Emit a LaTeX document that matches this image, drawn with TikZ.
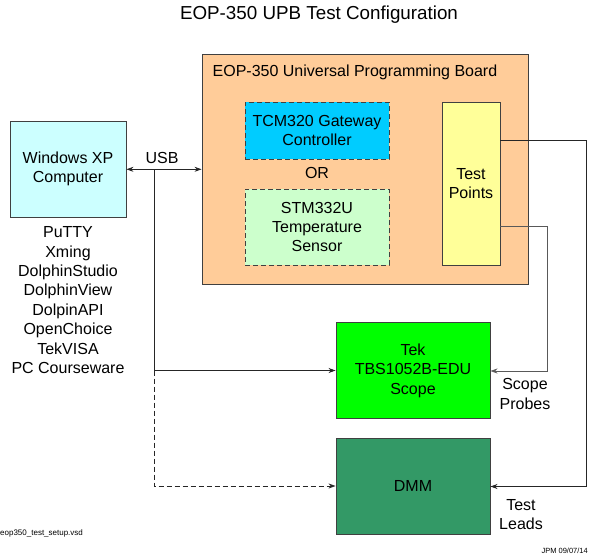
\documentclass[tikz,border=0pt]{standalone}
\usepackage{fontspec}
\setmainfont{Liberation Sans}
\usetikzlibrary{arrows.meta}
\definecolor{pcyan}{HTML}{CCFFFF}
\definecolor{peach}{HTML}{FFCC99}
\definecolor{skyb}{HTML}{00CCFF}
\definecolor{pgreen}{HTML}{CCFFCC}
\definecolor{pyellow}{HTML}{FFFF99}
\definecolor{lgreen}{HTML}{00FF00}
\definecolor{dgreen}{HTML}{339966}
\definecolor{bord}{HTML}{404040}
\tikzset{
  box/.style={draw=bord, line width=0.9pt, inner sep=0pt, align=center, font=\fontsize{16}{19.4}\selectfont},
  dbox/.style={box, dashed, dash pattern=on 5pt off 3pt},
  lbl/.style={inner sep=0pt, align=center, font=\fontsize{16}{19.4}\selectfont},
  conn/.style={draw=black!85, line width=0.8pt, -{Stealth[length=7pt,width=5pt]}},
}
\begin{document}
\begin{tikzpicture}[x=1pt,y=-1pt]
\useasboundingbox (0,0) rectangle (591,559);
\node[lbl, font=\fontsize{18.8}{20}\selectfont] (title) at (319,15) {EOP-350 UPB Test Configuration};
% PC
\node[box, fill=pcyan, minimum width=116pt, minimum height=96pt] (pc) at (68,169) {Windows XP\\Computer};
\node[lbl, anchor=north] (sw) at (68,226.5) {PuTTY\\Xming\\DolphinStudio\\DolphinView\\DolpinAPI\\OpenChoice\\TekVISA\\PC Courseware};
% UPB
\node[box, fill=peach, minimum width=326pt, minimum height=230pt] (upb) at (365,169) {};
\node[lbl, anchor=west] (upbt) at (212.5,72) {EOP-350 Universal Programming Board};
\node[dbox, fill=skyb, minimum width=144pt, minimum height=57pt] (tcm) at (317,130.5) {TCM320 Gateway\\Controller};
\node[lbl] (or) at (317,173) {OR};
\node[dbox, fill=pgreen, minimum width=144pt, minimum height=76pt] (stm) at (317,227) {STM332U\\Temperature\\Sensor};
\node[box, fill=pyellow, minimum width=58pt, minimum height=163pt] (tp) at (471,183.5) {Test\\Points};
% instruments
\node[box, fill=lgreen, minimum width=154pt, minimum height=96pt] (scope) at (413,370.5) {Tek\\TBS1052B-EDU\\Scope};
\node[box, fill=dgreen, minimum width=154pt, minimum height=96pt] (dmm) at (413,486) {DMM};
% USB
\draw[conn, {Stealth[length=7pt,width=5pt]}-{Stealth[length=7pt,width=5pt]}] (pc.east |- 0,169.3) -- (upb.west |- 0,169.3);
\node[lbl] (usb) at (162,158) {USB};
\coordinate (j1) at (154,169.3);
\coordinate (j2) at (154,370.5);
\coordinate (j3) at (154,486);
\draw[draw=black!85, line width=0.8pt] (j1) -- (j2);
\draw[conn] (j2) -- (scope.west |- j2);
\draw[conn, dashed, dash pattern=on 5pt off 3pt] (j2) -- (j3) -- (dmm.west |- j3);
% test points
\coordinate (r1) at (586,140.7);
\coordinate (r2) at (586,486.5);
\coordinate (s1) at (547,226.7);
\coordinate (s2) at (547,371);
\draw[conn] (tp.east |- r1) -- (r1) -- (r2) -- (dmm.east |- r2);
\draw[conn, draw=black!65] (tp.east |- s1) -- (s1) -- (s2) -- (scope.east |- s2);
\node[lbl] (probes) at (525,394) {Scope\\Probes};
\node[lbl] (leads) at (521,514.5) {Test\\Leads};
% footers
\node[inner sep=0pt, anchor=west, font=\fontsize{8}{9}\selectfont] (file) at (0,533) {eop350\_test\_setup.vsd};
\node[inner sep=0pt, anchor=east, font=\fontsize{7.5}{9}\selectfont] (jpm) at (588,551) {JPM 09/07/14};
\end{tikzpicture}
\end{document}
